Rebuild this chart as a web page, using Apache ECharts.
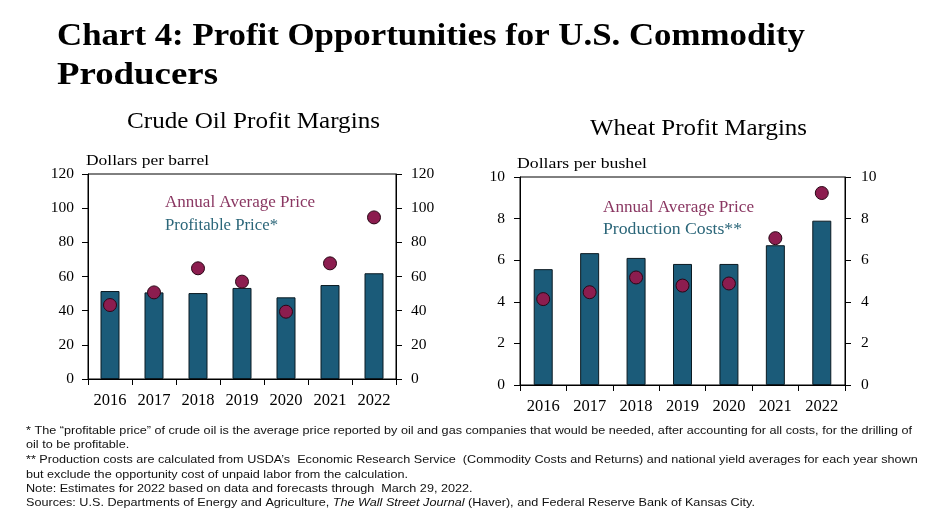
<!DOCTYPE html>
<html>
<head>
<meta charset="utf-8">
<script src="https://cdn.jsdelivr.net/npm/echarts@6/dist/echarts.min.js"></script>
<style>
html,body{margin:0;padding:0;background:#fff;}
#chart{width:925px;height:520px;}
</style>
</head>
<body>
<div id="chart"></div>
<script>
// ---- data ----
var years = ['2016', '2017', '2018', '2019', '2020', '2021', '2022'];
var oilProfitablePrice = [51.5, 50.7, 50.3, 53.3, 47.8, 55.0, 61.9];
var oilAnnualAvgPrice = [43.3, 50.7, 64.8, 57.0, 39.4, 67.7, 94.6];
var wheatProductionCosts = [5.57, 6.34, 6.11, 5.82, 5.82, 6.72, 7.90];
var wheatAnnualAvgPrice = [4.13, 4.46, 5.17, 4.78, 4.88, 7.06, 9.23];
var oilTicks = [0, 20, 40, 60, 80, 100, 120];
var wheatTicks = [0, 2, 4, 6, 8, 10];

var SERIF = '"Liberation Serif", "DejaVu Serif", serif';
var SANS = '"Liberation Sans Narrow", "Liberation Sans", Arial, sans-serif';
var BAR = '#1b5b79';
var DOT = '#8c1d4f';
var MAROON_TXT = '#8a3762';
var TEAL_TXT = '#2b6679';

var cv = document.createElement('canvas').getContext('2d');
function measure(text, font) { cv.font = font; return cv.measureText(text).width; }

function fitText(text, x, y, size, weight, family, color, targetW) {
  var font = (weight || 'normal') + ' ' + size + 'px ' + family;
  var w = measure(text, font);
  var s = targetW ? targetW / w : 1;
  return {
    type: 'text', x: x, y: y, scaleX: s, scaleY: 1, originX: 0, originY: 0, silent: true,
    style: { text: text, x: 0, y: 0, font: font, fill: color, textAlign: 'left', textVerticalAlign: 'middle' }
  };
}

var notes = [
  '* The \u201cprofitable price\u201d of crude oil is the average price reported by oil and gas companies that would be needed, after accounting for all costs, for the drilling of',
  'oil to be profitable.',
  '** Production costs are calculated from USDA\u2019s  Economic Research Service  (Commodity Costs and Returns) and national yield averages for each year shown',
  'but exclude the opportunity cost of unpaid labor from the calculation.',
  'Note: Estimates for 2022 based on data and forecasts through  March 29, 2022.'
];
var noteYs = [431, 445, 460, 475, 489, 503];
var noteSize = 11.5;
var noteFont = 'normal ' + noteSize + 'px ' + SANS;
var noteScale = 886 / measure(notes[0], noteFont);

var graphics = [
  fitText('Chart 4: Profit Opportunities for U.S. Commodity', 57, 37, 31, 'bold', SERIF, '#000', 748),
  fitText('Producers', 57, 76, 31, 'bold', SERIF, '#000', 161),
  fitText('Crude Oil Profit Margins', 127, 122, 23, 'normal', SERIF, '#000', 253),
  fitText('Wheat Profit Margins', 590, 129, 23, 'normal', SERIF, '#000', 217),
  fitText('Dollars per barrel', 86, 161, 15.5, 'normal', SERIF, '#000', 123),
  fitText('Dollars per bushel', 517, 164, 15.5, 'normal', SERIF, '#000', 130),
  fitText('Annual Average Price', 165, 203, 16, 'normal', SERIF, MAROON_TXT, 150),
  fitText('Profitable Price*', 165, 226, 16, 'normal', SERIF, TEAL_TXT, 113),
  fitText('Annual Average Price', 603, 208, 16, 'normal', SERIF, MAROON_TXT, 151),
  fitText('Production Costs**', 603, 230, 16, 'normal', SERIF, TEAL_TXT, 139)
];
notes.forEach(function (t, i) {
  graphics.push({
    type: 'text', x: 26, y: noteYs[i], scaleX: noteScale, originX: 0, originY: 0, silent: true,
    style: { text: t, x: 0, y: 0, font: noteFont, fill: '#111', textAlign: 'left', textVerticalAlign: 'middle' }
  });
});
graphics.push({
  type: 'text', x: 26, y: noteYs[5], scaleX: noteScale, originX: 0, originY: 0, silent: true,
  style: {
    text: 'Sources: U.S. Departments of Energy and Agriculture, {i|The Wall Street Journal} (Haver), and Federal Reserve Bank of Kansas City.',
    x: 0, y: 0, font: noteFont, fill: '#111', textAlign: 'left', textVerticalAlign: 'middle',
    rich: { i: { fontStyle: 'italic', fontSize: noteSize, fontFamily: SANS, fill: '#111' } }
  }
});

function xAx(gi) {
  return {
    type: 'category', gridIndex: gi, data: years, boundaryGap: true,
    axisLine: { lineStyle: { color: '#000', width: 1 } },
    axisTick: { show: true, length: 6, lineStyle: { color: '#000' } },
    axisLabel: { color: '#000', fontFamily: SERIF, fontSize: 16.5, margin: 13 },
    splitLine: { show: false }
  };
}
function yAx(gi, pos, max, interval, margin) {
  return {
    type: 'value', gridIndex: gi, position: pos, min: 0, max: max, interval: interval,
    axisLine: { show: true, lineStyle: { color: '#000', width: 1 } },
    axisTick: { show: true, length: 6, lineStyle: { color: '#000' } },
    axisLabel: { color: '#000', fontFamily: SERIF, fontSize: 15.5, margin: margin },
    splitLine: { show: false }
  };
}

var option = {
  animation: false,
  backgroundColor: '#fff',
  grid: [
    { left: 88, top: 174, width: 308, height: 205, show: true, borderColor: '#000', borderWidth: 1, backgroundColor: 'transparent' },
    { left: 520, top: 177, width: 325, height: 208, show: true, borderColor: '#000', borderWidth: 1, backgroundColor: 'transparent' }
  ],
  xAxis: [xAx(0), xAx(1)],
  yAxis: [
    yAx(0, 'left', oilTicks[oilTicks.length - 1], oilTicks[1] - oilTicks[0], 14),
    yAx(0, 'right', oilTicks[oilTicks.length - 1], oilTicks[1] - oilTicks[0], 15),
    yAx(1, 'left', wheatTicks[wheatTicks.length - 1], wheatTicks[1] - wheatTicks[0], 15),
    yAx(1, 'right', wheatTicks[wheatTicks.length - 1], wheatTicks[1] - wheatTicks[0], 16)
  ],
  series: [
    { name: 'Profitable Price*', type: 'bar', xAxisIndex: 0, yAxisIndex: 0, data: oilProfitablePrice, barWidth: 19,
      itemStyle: { color: BAR, borderColor: '#0b1a22', borderWidth: 1 } },
    { name: 'Annual Average Price', type: 'scatter', xAxisIndex: 0, yAxisIndex: 0, data: oilAnnualAvgPrice, symbolSize: 13, z: 5,
      itemStyle: { color: DOT, borderColor: '#2a0716', borderWidth: 1, opacity: 1 } },
    { name: 'Production Costs**', type: 'bar', xAxisIndex: 1, yAxisIndex: 2, data: wheatProductionCosts, barWidth: 19,
      itemStyle: { color: BAR, borderColor: '#0b1a22', borderWidth: 1 } },
    { name: 'Annual Average Price ', type: 'scatter', xAxisIndex: 1, yAxisIndex: 2, data: wheatAnnualAvgPrice, symbolSize: 13, z: 5,
      itemStyle: { color: DOT, borderColor: '#2a0716', borderWidth: 1, opacity: 1 } }
  ],
  graphic: graphics
};

var chart = echarts.init(document.getElementById('chart'), null, { renderer: 'canvas' });
chart.setOption(option);
</script>
</body>
</html>
